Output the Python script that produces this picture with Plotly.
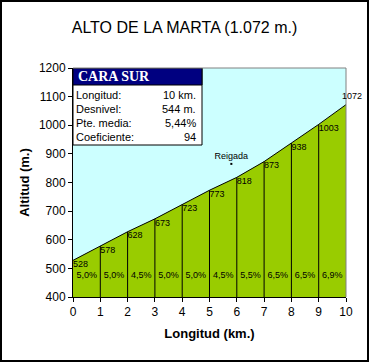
import plotly.graph_objects as go

km = [0, 1, 2, 3, 4, 5, 6, 7, 8, 9, 10]
altitud = [528, 578, 628, 673, 723, 773, 818, 873, 938, 1003, 1072]
pendientes = ["5,0%", "5,0%", "4,5%", "5,0%", "5,0%", "4,5%", "5,5%", "6,5%", "6,5%", "6,9%"]
y_ticks = [400, 500, 600, 700, 800, 900, 1000, 1100, 1200]
x_ticks = [0, 1, 2, 3, 4, 5, 6, 7, 8, 9, 10]
tabla_nombres = ["Longitud:", "Desnivel:", "Pte. media:", "Coeficiente:"]
tabla_valores = ["10 km.", "544 m.", "5,44%", "94"]
punto_nombre = "Reigada"
punto_x = [5.8]
punto_y = [865]

W, H = 369, 362
L, R, T, B = 73, 23, 68, 65
pw, ph = W - L - R, H - T - B
YMIN, YMAX = 400, 1200

fig = go.Figure()

# area
fig.add_trace(go.Scatter(x=km, y=altitud, mode="lines", fill="tozeroy",
                         fillcolor="#99CC00", line=dict(color="black", width=1),
                         hoverinfo="skip", showlegend=False))

# vertical separators
vx, vy = [], []
for k, a in zip(km[1:-1], altitud[1:-1]):
    vx += [k, k, None]
    vy += [YMIN, a, None]
fig.add_trace(go.Scatter(x=vx, y=vy, mode="lines", line=dict(color="black", width=1),
                         hoverinfo="skip", showlegend=False))

# elevation labels
fig.add_trace(go.Scatter(x=km[:-1], y=altitud[:-1], mode="text",
                         text=[str(a) for a in altitud[:-1]], textposition="bottom right",
                         textfont=dict(family="Liberation Sans, Arial", size=9, color="black"),
                         cliponaxis=False, hoverinfo="skip", showlegend=False))
fig.add_annotation(x=km[-1], y=altitud[-1], text=str(altitud[-1]), showarrow=False,
                   xanchor="center", yanchor="bottom", xshift=6, yshift=2,
                   font=dict(family="Liberation Sans, Arial", size=9, color="black"))

# slope labels
mid = [(km[i] + km[i + 1]) / 2 for i in range(len(km) - 1)]
fig.add_trace(go.Scatter(x=mid, y=[475] * len(mid), mode="text", text=pendientes,
                         textposition="middle center",
                         textfont=dict(family="Liberation Sans, Arial", size=9, color="black"),
                         hoverinfo="skip", showlegend=False))

# Reigada point
fig.add_trace(go.Scatter(x=punto_x, y=punto_y, mode="markers+text", text=[punto_nombre],
                         textposition="top center",
                         marker=dict(color="black", size=2, symbol="square"),
                         textfont=dict(family="Liberation Sans, Arial", size=9, color="black"),
                         hoverinfo="skip", showlegend=False))

def px_to_x(p):
    return (p - L) / pw * 10

def px_to_y(p):
    return YMAX - (p - T) / ph * (YMAX - YMIN)

shapes = []
# info box
bx0, bx1 = px_to_x(73), px_to_x(202)
by0, by1 = px_to_y(68), px_to_y(145)
hy = px_to_y(85)
shapes.append(dict(type="rect", xref="x", yref="y", x0=bx0, x1=bx1, y0=by1, y1=by0,
                   fillcolor="white", line=dict(color="black", width=1), layer="above"))
shapes.append(dict(type="rect", xref="x", yref="y", x0=bx0, x1=bx1, y0=hy, y1=by0,
                   fillcolor="#000080", line=dict(color="black", width=1), layer="above"))
# plot border top/right gray
shapes.append(dict(type="line", xref="paper", yref="paper", x0=0, x1=1, y0=1, y1=1,
                   line=dict(color="#808080", width=1)))
shapes.append(dict(type="line", xref="paper", yref="paper", x0=1, x1=1, y0=0, y1=1,
                   line=dict(color="#808080", width=1)))
# outer frame
shapes.append(dict(type="rect", xref="paper", yref="paper",
                   x0=(1 - L) / pw, x1=(W - 1 - L) / pw,
                   y0=-(B - 1) / ph, y1=1 + (T - 1) / ph,
                   line=dict(color="black", width=2), fillcolor="rgba(0,0,0,0)"))

annotations = []
annotations.append(dict(x=px_to_x(76), y=(hy + by0) / 2, xref="x", yref="y", text="<b>CARA SUR</b>",
                        showarrow=False, xanchor="left", yanchor="middle",
                        font=dict(family="Liberation Serif, Times New Roman", size=14, color="white")))
row_px = [95, 109, 123, 137]
for nom, val, rp in zip(tabla_nombres, tabla_valores, row_px):
    annotations.append(dict(x=px_to_x(74), y=px_to_y(rp), xref="x", yref="y", text=nom,
                            showarrow=False, xanchor="left", yanchor="middle",
                            font=dict(family="Liberation Sans, Arial", size=11, color="black")))
    annotations.append(dict(x=px_to_x(198), y=px_to_y(rp), xref="x", yref="y", text=val,
                            showarrow=False, xanchor="right", yanchor="middle",
                            font=dict(family="Liberation Sans, Arial", size=11, color="black")))
for a in annotations:
    fig.add_annotation(**a)

fig.update_layout(
    width=W, height=H,
    margin=dict(l=L, r=R, t=T, b=B),
    paper_bgcolor="white",
    plot_bgcolor="#CCFFFF",
    shapes=shapes,
    title=dict(text="ALTO DE LA MARTA (1.072 m.)", x=0.5, xanchor="center",
               y=1 - 27 / H, yanchor="middle",
               font=dict(family="Liberation Sans, Arial", size=16, color="black")),
    xaxis=dict(range=[0, 10], tickvals=x_ticks, ticks="outside", ticklen=4,
               tickcolor="black", showline=True, linecolor="black", linewidth=1,
               showgrid=False, zeroline=False,
               tickfont=dict(family="Liberation Sans, Arial", size=12, color="black"),
               title=dict(text="<b>Longitud (km.)</b>", standoff=10,
                          font=dict(family="Liberation Sans, Arial", size=13, color="black"))),
    yaxis=dict(range=[YMIN, YMAX], tickvals=y_ticks, ticks="outside", ticklen=4,
               tickcolor="black", showline=True, linecolor="black", linewidth=1,
               showgrid=False, zeroline=False,
               tickfont=dict(family="Liberation Sans, Arial", size=12, color="black"),
               title=dict(text="<b>Altitud (m.)</b>", standoff=6,
                          font=dict(family="Liberation Sans, Arial", size=13, color="black"))),
)

fig.write_html("out.html", config={"displayModeBar": False},
               post_script="document.body.style.margin='0';document.body.style.overflow='hidden';")
